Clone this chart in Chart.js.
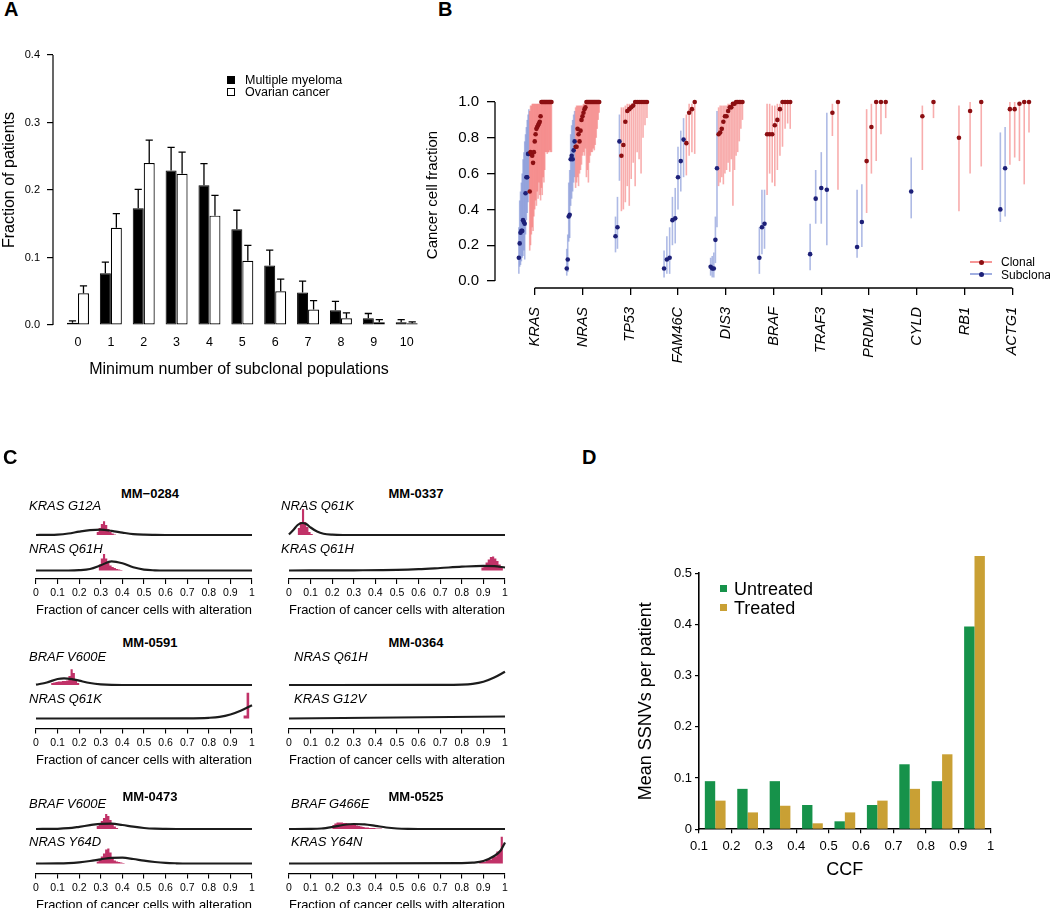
<!DOCTYPE html>
<html><head><meta charset="utf-8">
<script src="https://cdn.jsdelivr.net/npm/chart.js@4.4.1/dist/chart.umd.min.js"></script>
<style>
html,body{margin:0;padding:0;background:#fff;}
body{width:1050px;height:908px;position:relative;overflow:hidden;font-family:'Liberation Sans',Arial,Helvetica,sans-serif;color:#000;}
canvas{position:absolute;}
.t{position:absolute;white-space:nowrap;line-height:1;}
.sq{position:absolute;box-sizing:border-box;}
</style></head><body>
<script>
// ================= DATA =================
// ---- Panel A ----
const aCategories = [0,1,2,3,4,5,6,7,8,9,10];
const aMyeloma    = [0.0035,0.0765,0.173,0.229,0.207,0.142,0.088,0.048,0.022,0.010,0.004];
const aMyelomaErr = [0.006,0.093,0.201,0.263,0.239,0.170,0.111,0.065,0.035,0.017,0.008];
const aOvarian    = [0.047,0.144,0.240,0.224,0.162,0.095,0.050,0.023,0.010,0.004,0.0025];
const aOvarianErr = [0.058,0.165,0.274,0.256,0.192,0.118,0.068,0.036,0.018,0.008,0.0045];
const aYTicks = [0,0.1,0.2,0.3,0.4];

// ---- Panel B : [ccf, lower, upper, clonal(1)/subclonal(0)] ----
const bGenes = ['KRAS','NRAS','TP53','FAM46C','DIS3','BRAF','TRAF3','PRDM1','CYLD','RB1','ACTG1'];
const bKRAS = [
 [0.13,0.04,0.30,0],[0.21,0.08,0.45,0],[0.27,0.09,0.50,0],[0.28,0.11,0.55,0],[0.28,0.13,0.60,0],[0.34,0.14,0.68,0],[0.33,0.17,0.72,0],[0.32,0.12,0.78,0],[0.49,0.26,0.82,0],[0.58,0.34,0.86,0],[0.58,0.38,0.90,0],[0.71,0.44,0.93,0],[0.71,0.50,0.96,0],
 [0.50,0.17,0.95,1],[0.72,0.20,0.98,1],[0.71,0.26,0.98,1],[0.70,0.30,0.99,1],[0.66,0.28,0.99,1],[0.72,0.36,0.99,1],[0.78,0.40,0.99,1],[0.82,0.45,0.99,1],[0.85,0.42,0.99,1],[0.86,0.50,0.99,1],[0.87,0.46,0.99,1],[0.88,0.55,0.99,1],[0.89,0.48,0.99,1],
 [0.92,0.45,0.99,1],[1,0.52,0.99,1],[1,0.48,0.99,1],[1,0.58,0.99,1],[1,0.55,0.99,1],[1,0.62,0.99,1],[1,0.72,0.99,1],[1,0.72,0.99,1],[1,0.71,0.99,1],[1,0.72,0.99,1],[1,0.72,0.99,1],[1,0.73,0.99,1],[1,0.72,1,1],[1,0.72,1,1]];
const bNRAS = [
 [0.07,0.03,0.18,0],[0.12,0.05,0.26,0],[0.36,0.22,0.55,0],[0.37,0.24,0.62,0],[0.68,0.42,0.82,0],[0.70,0.46,0.87,0],[0.68,0.50,0.90,0],[0.73,0.55,0.93,0],[0.78,0.58,0.95,0],
 [0.75,0.52,0.97,1],[0.75,0.55,0.98,1],[0.85,0.58,0.98,1],[0.82,0.53,0.98,1],[0.78,0.60,0.98,1],[0.84,0.62,0.98,1],[0.90,0.65,0.98,1],[0.92,0.70,0.98,1],[0.94,0.72,0.99,1],[0.96,0.70,0.99,1],[0.97,0.74,0.99,1],
 [1,0.58,0.99,1],[1,0.62,0.99,1],[1,0.55,0.99,1],[1,0.66,0.99,1],[1,0.70,0.99,1],[1,0.72,0.99,1],[1,0.72,0.99,1],[1,0.74,0.99,1],[1,0.73,1,1],[1,0.76,1,1],[1,0.80,1,1],[1,0.85,1,1],[1,0.90,1,1],[1,0.94,1,1]];
const bTP53 = [
 [0.25,0.16,0.36,0],[0.30,0.18,0.47,0],[0.78,0.56,0.93,0],
 [0.70,0.39,0.97,1],[0.76,0.40,0.97,1],[0.89,0.44,0.98,1],[0.95,0.53,0.99,1],[0.96,0.42,0.99,1],[0.97,0.57,0.99,1],[0.98,0.66,0.99,1],
 [1,0.53,1,1],[1,0.72,1,1],[1,0.68,1,1],[1,0.60,1,1],[1,0.80,1,1],[1,0.87,1,1],[1,0.91,1,1]];
const bFAM46C = [
 [0.07,0.02,0.17,0],[0.12,0.04,0.25,0],[0.13,0.04,0.30,0],[0.34,0.20,0.47,0],[0.35,0.21,0.52,0],[0.58,0.40,0.75,0],[0.67,0.50,0.84,0],[0.79,0.58,0.91,0],
 [0.77,0.59,0.93,1],[0.94,0.70,0.99,1],[0.96,0.72,0.99,1],[1,0.71,1,1]];
const bDIS3 = [
 [0.08,0.03,0.13,0],[0.07,0.02,0.14,0],[0.07,0.02,0.16,0],[0.23,0.10,0.36,0],[0.63,0.30,0.95,0],
 [0.82,0.53,0.97,1],[0.83,0.55,0.98,1],[0.85,0.58,0.98,1],[0.89,0.54,0.98,1],[0.92,0.60,0.98,1],[0.92,0.62,0.98,1],[0.95,0.66,0.99,1],[0.97,0.61,0.99,1],[0.97,0.68,0.99,1],[0.99,0.42,0.99,1],[0.99,0.62,1,1],
 [1,0.70,1,1],[1,0.72,1,1],[1,0.78,1,1],[1,0.85,1,1],[1,0.90,1,1]];
const bBRAF = [
 [0.13,0.04,0.30,0],[0.30,0.15,0.51,0],[0.32,0.18,0.51,0],
 [0.82,0.48,0.99,1],[0.82,0.60,0.99,1],[0.82,0.55,0.98,1],[0.87,0.53,0.98,1],[0.90,0.62,0.99,1],[0.96,0.70,0.99,1],
 [1,0.75,1,1],[1,0.85,1,1],[1,0.88,1,1],[1,0.85,1,1]];
const bTRAF3 = [[0.15,0.06,0.32,0],[0.46,0.32,0.62,0],[0.52,0.32,0.72,0],[0.51,0.20,0.94,0],[0.94,0.81,0.99,1],[1,0.51,1,1]];
const bPRDM1 = [[0.19,0.13,0.51,0],[0.33,0.19,0.54,0],[0.67,0.38,0.96,1],[0.86,0.60,0.99,1],[1,0.67,1,1],[1,0.82,1,1],[1,0.91,1,1]];
const bCYLD  = [[0.50,0.35,0.69,0],[0.92,0.62,0.98,1],[1,0.91,1,1]];
const bRB1   = [[0.80,0.39,0.98,1],[0.95,0.60,1,1],[1,0.64,1,1]];
const bACTG1 = [[0.40,0.33,0.83,0],[0.63,0.36,0.86,0],[0.96,0.65,1,1],[0.96,0.69,1,1],[0.99,0.67,1,1],[1,0.54,1,1],[1,0.83,1,1]];
const bYTicks = [0,0.2,0.4,0.6,0.8,1.0];

// ---- Panel C : density curves [x, height] and posterior histograms [bin start, height] ----
const cTitles = ['MM\u22120284','MM-0337','MM-0591','MM-0364','MM-0473','MM-0525'];
const cLabels = [['KRAS G12A','NRAS Q61H'],['NRAS Q61K','KRAS Q61H'],['BRAF V600E','NRAS Q61K'],['NRAS Q61H','KRAS G12V'],['BRAF V600E','NRAS Y64D'],['BRAF G466E','KRAS Y64N']];
const c0284Curve1 = [[0,0],[0.05,0.1],[0.1,0.4],[0.15,1.5],[0.2,3.4],[0.25,4.9],[0.3,5.3],[0.35,4.1],[0.4,2.4],[0.45,0.9],[0.5,0.3],[0.55,0.1],[0.6,0],[1,0]];
const c0284Hist1  = [[0.28,1],[0.29,3],[0.30,7],[0.31,11],[0.32,13.7],[0.33,10],[0.34,6],[0.35,3],[0.36,1.5],[0.37,0.5],[0.38,0]];
const c0284Curve2 = [[0,0],[0.15,0],[0.2,0.3],[0.25,1.5],[0.3,5.2],[0.35,9.2],[0.4,7.2],[0.45,3.2],[0.5,0.9],[0.55,0.2],[0.6,0],[1,0]];
const c0284Hist2  = [[0.29,2],[0.30,6],[0.31,12],[0.32,16.5],[0.33,12],[0.34,8],[0.35,5],[0.36,3.5],[0.37,2.5],[0.38,1.5],[0.39,1],[0.40,0.5],[0.41,0]];
const c0337Curve1 = [[0,0.5],[0.02,5],[0.04,10],[0.06,12],[0.08,11],[0.1,7.5],[0.13,3.5],[0.16,1.3],[0.2,0.3],[0.25,0],[1,0]];
const c0337Hist1  = [[0.04,2],[0.05,7],[0.06,13],[0.07,26],[0.08,13],[0.09,8],[0.10,3],[0.11,1],[0.12,0]];
const c0337Curve2 = [[0,0],[0.3,0.2],[0.5,0.6],[0.6,1.3],[0.7,2.5],[0.8,3.8],[0.9,4.6],[0.95,4.3],[1,3]];
const c0337Hist2  = [[0.89,1],[0.90,3],[0.91,5],[0.92,8],[0.93,11],[0.94,13.5],[0.95,14],[0.96,12],[0.97,9.5],[0.98,6],[0.99,3.5],[1,0]];
const c0591Curve1 = [[0,0.3],[0.05,2.5],[0.1,6],[0.13,6.7],[0.17,5.7],[0.2,4.3],[0.25,2],[0.3,0.7],[0.35,0.1],[0.4,0],[1,0]];
const c0591Hist1  = [[0.07,1],[0.08,2],[0.09,2.5],[0.10,3],[0.12,3.5],[0.14,4],[0.15,4.5],[0.16,9],[0.17,15.7],[0.18,12],[0.19,6],[0.20,2],[0.21,0]];
const c0591Curve2 = [[0,0],[0.7,0.2],[0.8,0.7],[0.85,1.6],[0.9,4],[0.95,8],[1,13.3]];
const c0591Hist2  = [[0.96,1.5],[0.975,3],[0.987,25.7],[1,0]];
const c0364Curve1 = [[0,0],[0.7,0.1],[0.8,0.4],[0.85,1.2],[0.9,3.3],[0.95,7.5],[1,13.3]];
const c0364Hist1  = [[0.99,26.7],[1,0]];
const c0364Curve2 = [[0,0],[0.5,1],[1,2]];
const c0364Hist2  = [[0.99,25],[1,0]];
const c0473Curve1 = [[0,0],[0.1,0.2],[0.15,0.8],[0.2,2.2],[0.25,3.8],[0.3,5.2],[0.35,5.3],[0.4,4],[0.45,2.3],[0.5,1],[0.55,0.3],[0.6,0.1],[0.65,0],[1,0]];
const c0473Hist1  = [[0.28,1],[0.29,3],[0.30,5],[0.31,8],[0.32,11],[0.33,15],[0.34,13],[0.35,9],[0.36,5],[0.37,2.5],[0.38,1],[0.39,0]];
const c0473Curve2 = [[0,0],[0.1,0.1],[0.15,0.4],[0.2,1.2],[0.25,2.5],[0.3,4.2],[0.35,5.7],[0.4,5.8],[0.45,4.5],[0.5,2.8],[0.55,1.5],[0.6,0.6],[0.65,0.2],[0.7,0],[1,0]];
const c0473Hist2  = [[0.28,1],[0.29,2],[0.30,4],[0.31,7],[0.32,10],[0.33,14],[0.34,15],[0.35,11],[0.36,6],[0.37,3],[0.38,2],[0.39,1.5],[0.40,1],[0.41,0.5],[0.42,0]];
const c0525Curve1 = [[0,0],[0.1,0.1],[0.15,0.5],[0.2,2],[0.25,4],[0.3,5],[0.35,4.7],[0.4,3.2],[0.45,1.5],[0.5,0.5],[0.55,0.1],[0.6,0],[1,0]];
const c0525Hist1  = [[0.20,2],[0.21,4],[0.22,5.5],[0.23,6.5],[0.25,6.5],[0.27,6],[0.28,5.5],[0.29,5],[0.30,4.5],[0.31,4],[0.32,3.5],[0.33,3],[0.34,2.5],[0.35,2],[0.37,1.5],[0.40,1],[0.43,0.5],[0.45,0]];
const c0525Curve2 = [[0,0],[0.8,0.3],[0.85,0.8],[0.9,2.5],[0.95,7.5],[0.98,13],[1,21]];
const c0525Hist2  = [[0.88,0.5],[0.91,1.5],[0.94,4],[0.96,7],[0.98,12],[0.99,26.7],[1,0]];
const cXTicks = [0,0.1,0.2,0.3,0.4,0.5,0.6,0.7,0.8,0.9,1];

// ---- Panel D ----
const dBins      = [0.15,0.25,0.35,0.45,0.55,0.65,0.75,0.85,0.95];
const dUntreated = [0.094,0.079,0.094,0.0475,0.0156,0.0475,0.127,0.094,0.396];
const dTreated   = [0.056,0.033,0.046,0.0117,0.033,0.056,0.079,0.1465,0.534];
const dXTicks = [0.1,0.2,0.3,0.4,0.5,0.6,0.7,0.8,0.9,1];
const dYTicks = [0,0.1,0.2,0.3,0.4,0.5];

// ================= HELPERS =================
Chart.defaults.font.family = "'Liberation Sans', Arial, Helvetica, sans-serif";
Chart.defaults.color = '#000';
const fmt = v => String(Math.round(v*100)/100);
function canvasAt(l,t,w,h){
  const c=document.createElement('canvas'); c.width=w; c.height=h;
  c.style.left=l+'px'; c.style.top=t+'px'; c.style.width=w+'px'; c.style.height=h+'px';
  document.body.appendChild(c); return c;
}
function addText(s,x,y,size,opts={}){
  const d=document.createElement('div'); d.className='t'; d.textContent=s;
  d.style.left=x+'px'; d.style.top=y+'px'; d.style.fontSize=size+'px';
  if(opts.weight) d.style.fontWeight=opts.weight;
  if(opts.style) d.style.fontStyle=opts.style;
  d.style.transform = opts.center ? 'translate(-50%,-50%)' : 'translate(0,-50%)';
  document.body.appendChild(d); return d;
}
function box(x,y,w,h,css){const d=document.createElement('div');d.className='sq';d.style.cssText+=`left:${x}px;top:${y}px;width:${w}px;height:${h}px;${css}`;document.body.appendChild(d);}
const noInteract = {responsive:false, animation:false, events:[]};

// ================= PANEL A =================
(function(){
  const T=20, H=359;
  const errPlugin = {id:'aErr', afterDatasetsDraw(chart){
    const ctx=chart.ctx, ys=chart.scales.y;
    [[aMyeloma,aMyelomaErr],[aOvarian,aOvarianErr]].forEach(([vals,errs],d)=>{
      chart.getDatasetMeta(d).data.forEach((bar,i)=>{
        const x=bar.x, y0=ys.getPixelForValue(vals[i]), y1=ys.getPixelForValue(errs[i]);
        ctx.save(); ctx.strokeStyle='#000'; ctx.lineWidth=1.3; ctx.beginPath();
        ctx.moveTo(x,y0); ctx.lineTo(x,y1); ctx.moveTo(x-3.6,y1); ctx.lineTo(x+3.6,y1); ctx.stroke(); ctx.restore();
      });
    });
  }, afterDraw(chart){
    const ctx=chart.ctx, ys=chart.scales.y, ca=chart.chartArea;
    ctx.save(); ctx.strokeStyle='#000'; ctx.lineWidth=1.2; ctx.beginPath();
    ctx.moveTo(ca.left, ys.getPixelForValue(0)); ctx.lineTo(ca.left, ys.getPixelForValue(aYTicks[aYTicks.length-1])); ctx.stroke(); ctx.restore();
  }};
  new Chart(canvasAt(0,T,430,H), {
    type:'bar',
    data:{datasets:[
      {label:'Multiple myeloma', data:aCategories.map((c,i)=>({x:c,y:aMyeloma[i]})), backgroundColor:'#000', borderColor:'#000', borderWidth:1, borderSkipped:false, categoryPercentage:0.669, barPercentage:1},
      {label:'Ovarian cancer', data:aCategories.map((c,i)=>({x:c,y:aOvarian[i]})), backgroundColor:'#fff', borderColor:'#000', borderWidth:1.2, borderSkipped:false, categoryPercentage:0.669, barPercentage:1}
    ]},
    options:Object.assign({}, noInteract, {
      layout:{padding:{left:0,right:5,top:15,bottom:0}},
      plugins:{legend:{display:false},tooltip:{enabled:false}},
      scales:{
        x:{type:'linear', min:-0.76, max:10.557, offset:false,
          afterBuildTicks:s=>{s.ticks=aCategories.map(v=>({value:v}));},
          afterFit:s=>{s.height=H-305; s.paddingLeft=0; s.paddingRight=0;},
          grid:{display:false, drawTicks:false, offset:false}, border:{display:false},
          ticks:{font:{size:12.5}, padding:10.5, autoSkip:false, maxRotation:0, callback:v=>String(v)},
          title:{display:true, text:'Minimum number of subclonal populations', font:{size:16}, padding:{top:0,bottom:0}}},
        y:{min:0, max:0.4296,
          afterBuildTicks:s=>{s.ticks=aYTicks.map(v=>({value:v}));},
          afterFit:s=>{s.width=53;},
          grid:{drawOnChartArea:false, tickLength:6, color:'#000', lineWidth:1.2}, border:{display:false},
          ticks:{font:{size:11}, padding:7, callback:v=>Number(v).toFixed(1)},
          title:{display:true, text:'Fraction of patients', font:{size:16}, padding:{top:0,bottom:0}}}
      }
    }),
    plugins:[errPlugin]
  });
})();

// ================= PANEL B =================
(function(){
  const bData=[bKRAS,bNRAS,bTP53,bFAM46C,bDIS3,bBRAF,bTRAF3,bPRDM1,bCYLD,bRB1,bACTG1];
  const clonal=[], sub=[];
  bData.forEach((arr,g)=>arr.forEach((m,k)=>{
    const p={x:g-0.35+0.7*(k+1)/arr.length, y:m[0], lo:m[1], hi:m[2]};
    (m[3]?clonal:sub).push(p);
  }));
  const T=80, H=298;
  const bPlugin={id:'bErr',
    beforeDatasetsDraw(chart){
      const ctx=chart.ctx, ys=chart.scales.y;
      for(let d=chart.data.datasets.length-1; d>=0; d--){
        const ds=chart.data.datasets[d], meta=chart.getDatasetMeta(d);
        ctx.save(); ctx.strokeStyle=ds.errColor; ctx.lineWidth=1.6;
        meta.data.forEach((pt,i)=>{const v=ds.data[i]; ctx.beginPath(); ctx.moveTo(pt.x, ys.getPixelForValue(v.lo)); ctx.lineTo(pt.x, ys.getPixelForValue(v.hi)); ctx.stroke();});
        ctx.restore();
      }
    },
    afterDraw(chart){
      const ctx=chart.ctx, xs=chart.scales.x, ys=chart.scales.y, ca=chart.chartArea;
      ctx.save(); ctx.strokeStyle='#000'; ctx.lineWidth=1.3; ctx.beginPath();
      ctx.moveTo(ca.left, ys.getPixelForValue(0)); ctx.lineTo(ca.left, ys.getPixelForValue(1));
      ctx.moveTo(xs.getPixelForValue(0), ca.bottom); ctx.lineTo(xs.getPixelForValue(bGenes.length-1), ca.bottom);
      ctx.stroke(); ctx.restore();
    }};
  new Chart(canvasAt(420,T,630,H), {
    type:'scatter',
    data:{datasets:[
      {label:'Clonal', data:clonal, pointRadius:2.3, pointBorderWidth:0, pointBackgroundColor:'#8c0f12', errColor:'rgba(242,105,105,0.55)', clip:false},
      {label:'Subclonal', data:sub, pointRadius:2.3, pointBorderWidth:0, pointBackgroundColor:'#1d2078', errColor:'rgba(120,140,212,0.6)', clip:false}
    ]},
    options:Object.assign({}, noInteract, {
      layout:{padding:{left:0,right:0,top:22,bottom:0}},
      plugins:{legend:{display:false},tooltip:{enabled:false}},
      scales:{
        x:{type:'linear', min:-0.832, max:10.706,
          afterBuildTicks:s=>{s.ticks=bGenes.map((g,i)=>({value:i}));},
          afterFit:s=>{s.height=H-208; s.paddingLeft=0; s.paddingRight=0;},
          grid:{drawOnChartArea:false, tickLength:7, color:'#000', lineWidth:1.3}, border:{display:false},
          ticks:{font:{size:14.5, style:'italic'}, padding:12, autoSkip:false, minRotation:90, maxRotation:90, callback:(v,i)=>bGenes[i]}},
        y:{min:-0.039, max:1.0,
          afterBuildTicks:s=>{s.ticks=bYTicks.map(v=>({value:v}));},
          afterFit:s=>{s.width=75;},
          grid:{drawOnChartArea:false, tickLength:8, color:'#000', lineWidth:1.3}, border:{display:false},
          ticks:{font:{size:15}, padding:8, callback:v=>Number(v).toFixed(1)},
          title:{display:true, text:'Cancer cell fraction', font:{size:15}, padding:{top:4,bottom:0}}}
      }
    }),
    plugins:[bPlugin]
  });
})();

// ================= PANEL C =================
(function(){
  const curves=[[c0284Curve1,c0284Curve2],[c0337Curve1,c0337Curve2],[c0591Curve1,c0591Curve2],[c0364Curve1,c0364Curve2],[c0473Curve1,c0473Curve2],[c0525Curve1,c0525Curve2]];
  const hists=[[c0284Hist1,c0284Hist2],[c0337Hist1,c0337Hist2],[c0591Hist1,c0591Hist2],[c0364Hist1,c0364Hist2],[c0473Hist1,c0473Hist2],[c0525Hist1,c0525Hist2]];
  const colX=[36,289], plotW=216;
  const rows=[{b1:535,b2:570.5,ax:579,title:493,l1:505,l2:548},{b1:684.5,b2:718,ax:728,title:641.5,l1:656,l2:698},{b1:828.5,b2:863,ax:873,title:796,l1:803,l2:841}];
  const labelX=[29,281,29,294,29,291], titleX=[150,416];
  for(let i=0;i<6;i++){
    const col=i%2, R=rows[Math.floor(i/2)], x0=colX[col];
    const gap=R.b2-R.b1, top=R.b1-30, hx=39, pad=16;
    const W=plotW+2*pad, H=Math.round(R.ax-top+hx);
    const tracks=[[curves[i][0],hists[i][0],gap],[curves[i][1],hists[i][1],0]];
    const ds=[];
    tracks.forEach(([cv,hs,base])=>ds.push({data:cv.map(p=>({x:p[0],y:base+p[1]})), borderColor:'#1c1c1c', borderWidth:2.2, pointRadius:0, cubicInterpolationMode:'monotone', fill:false, clip:false}));
    tracks.forEach(([cv,hs,base])=>ds.push({data:hs.map(p=>({x:p[0],y:base+p[1]})), stepped:'after', borderWidth:0, borderColor:'rgba(0,0,0,0)', backgroundColor:'rgba(186,28,88,0.9)', pointRadius:0, fill:{value:base}, clip:false}));
    new Chart(canvasAt(x0-pad, top, W, H), {
      type:'line', data:{datasets:ds},
      options:Object.assign({}, noInteract, {
        layout:{padding:{left:pad,right:pad,top:0,bottom:0}},
        plugins:{legend:{display:false},tooltip:{enabled:false}},
        scales:{
          x:{type:'linear', min:0, max:1,
            afterBuildTicks:s=>{s.ticks=cXTicks.map(v=>({value:v}));},
            afterFit:s=>{s.height=H-(R.ax-top); s.paddingLeft=0; s.paddingRight=0;},
            grid:{drawOnChartArea:false, tickLength:5, color:'#000', lineWidth:1.1}, border:{display:true,color:'#000',width:1.2},
            ticks:{font:{size:10.5}, padding:3, maxRotation:0, autoSkip:false, callback:fmt},
            title:{display:true, text:'Fraction of cancer cells with alteration', font:{size:13}, padding:{top:0,bottom:0}}},
          y:{display:false, min:-(R.ax-R.b2), max:gap+30}
        }
      })
    });
    addText(cTitles[i], titleX[col], R.title, 13, {weight:'bold', center:true});
    addText(cLabels[i][0], labelX[i], R.l1, 13, {style:'italic'});
    addText(cLabels[i][1], labelX[i], R.l2, 13, {style:'italic'});
  }
})();

// ================= PANEL D =================
(function(){
  const T=540, W=420, H=341, chartBottom=829.3-T;
  new Chart(canvasAt(600,T,W,H), {
    type:'bar',
    data:{datasets:[
      {label:'Untreated', data:dBins.map((b,i)=>({x:b,y:dUntreated[i]})), backgroundColor:'#16924a', categoryPercentage:0.64, barPercentage:1, clip:false},
      {label:'Treated', data:dBins.map((b,i)=>({x:b,y:dTreated[i]})), backgroundColor:'#c9a034', categoryPercentage:0.64, barPercentage:1, clip:false}
    ]},
    options:Object.assign({}, noInteract, {
      layout:{padding:{left:0,right:W-(990.7-600),top:573.3-T,bottom:0}},
      plugins:{legend:{display:false},tooltip:{enabled:false}},
      scales:{
        x:{type:'linear', min:0.1, max:1, offset:false,
          afterBuildTicks:s=>{s.ticks=dXTicks.map(v=>({value:v}));},
          afterFit:s=>{s.height=H-chartBottom; s.paddingLeft=0; s.paddingRight=0;},
          grid:{drawOnChartArea:false, offset:false, tickLength:4, color:'#000', lineWidth:1.2}, border:{display:true,color:'#000',width:1.6},
          ticks:{font:{size:13}, padding:5.6, maxRotation:0, autoSkip:false, callback:fmt},
          title:{display:true, text:'CCF', font:{size:18}, padding:{top:0,bottom:0}}},
        y:{min:0, max:0.5,
          afterBuildTicks:s=>{s.ticks=dYTicks.map(v=>({value:v}));},
          afterFit:s=>{s.width=99;},
          grid:{drawOnChartArea:false, tickLength:4, color:'#000', lineWidth:1.2}, border:{display:true,color:'#000',width:1.6},
          ticks:{font:{size:13}, padding:3, callback:fmt},
          title:{display:true, text:'Mean SSNVs per patient', font:{size:18}, padding:{top:35,bottom:0}}}
      }
    })
  });
})();

// ================= TEXT / LEGENDS =================
addText('A',4,9,20,{weight:'bold'});
addText('B',438,9,20,{weight:'bold'});
addText('C',3,456.5,20,{weight:'bold'});
addText('D',582,456.5,20,{weight:'bold'});
// legend A
box(227,75.5,8,8,'background:#000;');
box(227,88,8,8,'background:#fff;border:1px solid #000;');
addText('Multiple myeloma',245,79.5,12.5);
addText('Ovarian cancer',245,92,12.5);
// legend B
box(970,261.2,22,1.6,'background:rgba(242,105,105,0.7);');
box(978.5,259.5,5,5,'background:#8c0f12;border-radius:50%;');
addText('Clonal',1001,262,12);
box(970,273.2,22,1.6,'background:rgba(120,140,212,0.7);');
box(978.5,271.5,5,5,'background:#1d2078;border-radius:50%;');
addText('Subclonal',1001,274.5,12);
// legend D
box(720,585,7,7,'background:#16924a;');
box(720,604,7,7,'background:#c9a034;');
addText('Untreated',734,588.5,18);
addText('Treated',734,607.5,18);
</script>
</body></html>
